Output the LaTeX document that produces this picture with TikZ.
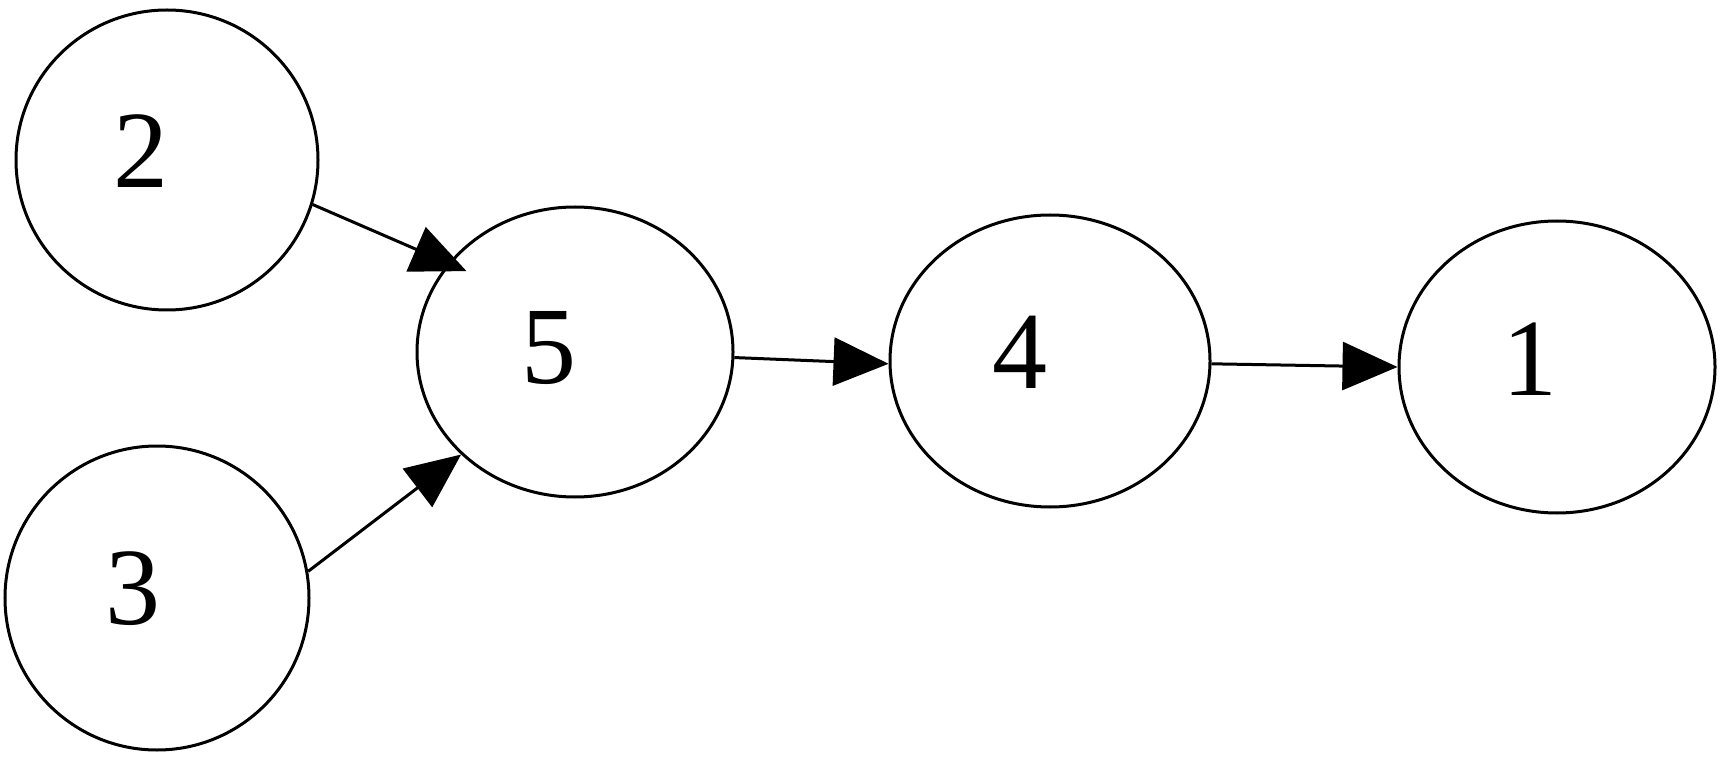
\documentclass[tikz,border=0pt]{standalone}
\usepackage{fontspec}
\setmainfont{Liberation Serif}
\usetikzlibrary{shapes.geometric,arrows.meta}
\begin{document}
\begin{tikzpicture}[x=1pt,y=1pt,
  vert/.style={draw, ellipse, line width=3pt, inner sep=0pt},
  edge/.style={line width=3pt, -{Triangle[length=55pt,width=48pt]}},
  num/.style={font=\fontsize{110}{110}\selectfont, inner sep=0pt}]
\useasboundingbox (0,0) rectangle (1732,756);
\node[vert, minimum width=302pt, minimum height=300pt,
  label={[num, shift={(-26pt,9pt)}]center:2}] (n2) at (167,596) {};
\node[vert, minimum width=304pt, minimum height=304pt,
  label={[num, shift={(-24pt,9pt)}]center:3}] (n3) at (157,158) {};
\node[vert, minimum width=316pt, minimum height=290pt,
  label={[num, shift={(-26pt,4pt)}]center:5}] (n5) at (575,404) {};
\node[vert, minimum width=320pt, minimum height=292pt,
  label={[num, shift={(-30pt,9pt)}]center:4}] (n4) at (1050,395) {};
\node[vert, minimum width=316pt, minimum height=292pt,
  label={[num, shift={(-27pt,8pt)}]center:1}] (n1) at (1557,389) {};
\draw[edge, shorten >=-20pt] (n2.-17) -- (n5.145);
\draw[edge] (n3.10) -- (n5.222);
\draw[edge] (n5.-2) -- (n4.181);
\draw[edge] (n4.-1) -- (n1.180);
\end{tikzpicture}
\end{document}
